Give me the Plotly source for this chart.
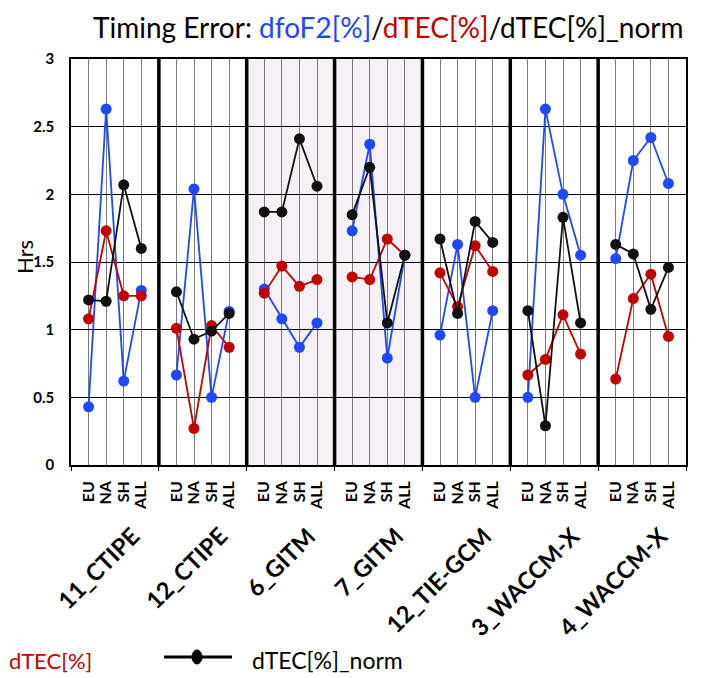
import plotly.graph_objects as go

groups = ["11_CTIPE", "12_CTIPE", "6_GITM", "7_GITM", "12_TIE-GCM", "3_WACCM-X", "4_WACCM-X"]
regions = ["EU", "NA", "SH", "ALL"]

dfoF2 = [
    [0.43, 2.63, 0.62, 1.29],
    [0.665, 2.04, 0.50, 1.135],
    [1.30, 1.08, 0.87, 1.05],
    [1.73, 2.37, 0.79, 1.55],
    [0.96, 1.63, 0.50, 1.14],
    [0.50, 2.63, 2.00, 1.55],
    [1.525, 2.25, 2.42, 2.08],
]
dTEC = [
    [1.08, 1.73, 1.25, 1.25],
    [1.01, 0.27, 1.03, 0.87],
    [1.27, 1.47, 1.32, 1.37],
    [1.39, 1.37, 1.67, 1.55],
    [1.42, 1.17, 1.62, 1.43],
    [0.665, 0.78, 1.11, 0.82],
    [0.635, 1.23, 1.41, 0.95],
]
dTEC_norm = [
    [1.22, 1.21, 2.07, 1.60],
    [1.28, 0.93, 0.99, 1.12],
    [1.87, 1.87, 2.41, 2.06],
    [1.85, 2.20, 1.05, 1.55],
    [1.67, 1.12, 1.80, 1.645],
    [1.14, 0.29, 1.83, 1.05],
    [1.63, 1.56, 1.15, 1.46],
]
shaded_groups = ["6_GITM", "7_GITM"]

BLUE = "#1f48ff"
RED = "#c00000"
BLACK = "#111111"
FONT = "Lato"

W, H = 701, 678
L, R, T, B = 71, 15, 59, 213
PW = W - L - R
PH = H - T - B


def px2paper_x(px):
    return (px - L) / PW


def px2paper_y(py):
    return (H - B - py) / PH


def series_xy(values):
    xs, ys = [], []
    for g, vals in enumerate(values):
        for i, v in enumerate(vals):
            xs.append(5 * g + i + 1)
            ys.append(v)
        xs.append(None)
        ys.append(None)
    return xs, ys


fig = go.Figure()
for vals, col in [(dfoF2, BLUE), (dTEC, RED), (dTEC_norm, BLACK)]:
    xs, ys = series_xy(vals)
    fig.add_trace(go.Scatter(
        x=xs, y=ys, mode="lines+markers",
        line=dict(color=col, width=1.8),
        marker=dict(color=col, size=11),
        showlegend=False, cliponaxis=False,
    ))

tickvals, ticktext = [], []
for g in range(len(groups)):
    for i, r in enumerate(regions):
        tickvals.append(5 * g + i + 1)
        ticktext.append("<b>%s</b>" % r)

shapes = []
for g, name in enumerate(groups):
    if name in shaded_groups:
        shapes.append(dict(type="rect", xref="x", yref="y", x0=5 * g, x1=5 * g + 5,
                           y0=0, y1=3, fillcolor="#f6f1f4", line=dict(width=0), layer="below"))
# group separators
for g in range(1, len(groups)):
    shapes.append(dict(type="line", xref="x", yref="y", x0=5 * g, x1=5 * g, y0=0, y1=3,
                       line=dict(color="black", width=3.5), layer="above"))

annotations = []
for g, name in enumerate(groups):
    annotations.append(dict(
        text="<b>%s</b>" % name, xref="x", yref="paper",
        x=5 * g + 4.35, y=px2paper_y(519), xanchor="right", yanchor="top",
        textangle=-45, showarrow=False,
        font=dict(family=FONT, size=23.5, color="black"),
    ))

# title
annotations.append(dict(
    text=("Timing Error: <span style='color:%s'>dfoF2[%%]</span>/"
          "<span style='color:%s'>dTEC[%%]</span>/dTEC[%%]_norm") % (BLUE, RED),
    xref="paper", yref="paper", x=px2paper_x(388), y=px2paper_y(27),
    xanchor="center", yanchor="middle", showarrow=False,
    font=dict(family=FONT, size=28, color="black"),
))

# y-axis title
annotations.append(dict(
    text="Hrs", xref="paper", yref="paper", x=px2paper_x(24), y=px2paper_y(257),
    xanchor="center", yanchor="middle", textangle=-90, showarrow=False,
    font=dict(family=FONT, size=22, color="black"),
))

# manual (clipped) legend
annotations.append(dict(
    text="dTEC[%]", xref="paper", yref="paper", x=px2paper_x(7), y=px2paper_y(660),
    xanchor="left", yanchor="middle", showarrow=False,
    font=dict(family=FONT, size=22, color=RED),
))
annotations.append(dict(
    text="dTEC[%]_norm", xref="paper", yref="paper", x=px2paper_x(250), y=px2paper_y(660),
    xanchor="left", yanchor="middle", showarrow=False,
    font=dict(family=FONT, size=23, color="black"),
))
shapes.append(dict(type="line", xref="paper", yref="paper",
                   x0=px2paper_x(164), x1=px2paper_x(232),
                   y0=px2paper_y(657), y1=px2paper_y(657),
                   line=dict(color="black", width=3)))
shapes.append(dict(type="circle", xref="paper", yref="paper",
                   x0=px2paper_x(192), x1=px2paper_x(202),
                   y0=px2paper_y(650), y1=px2paper_y(664),
                   fillcolor="black", line=dict(color="black", width=1)))

fig.update_layout(
    width=W, height=H,
    margin=dict(l=L, r=R, t=T, b=B, autoexpand=False),
    paper_bgcolor="white", plot_bgcolor="white",
    font=dict(family=FONT, color="black"),
    shapes=shapes, annotations=annotations,
    xaxis=dict(
        range=[0, 35], tickvals=tickvals, ticktext=ticktext, tickangle=-90,
        tickfont=dict(family=FONT, size=16, color="black"),
        showgrid=True, gridcolor="#7a7a7a", gridwidth=1.2,
        showline=True, linecolor="black", linewidth=1.5, mirror=True,
        ticks="", zeroline=False, ticklabelstandoff=8, automargin=False,
        minor=dict(tick0=0, dtick=5, ticks="outside", ticklen=4, tickcolor="black", showgrid=False),
    ),
    yaxis=dict(
        range=[0, 3], tickvals=[0, 0.5, 1, 1.5, 2, 2.5, 3],
        ticktext=["<b>0</b>", "<b>0.5</b>", "<b>1</b>", "<b>1.5</b>", "<b>2</b>", "<b>2.5</b>", "<b>3</b>"],
        tickfont=dict(family=FONT, size=15, color="black"),
        showgrid=True, gridcolor="black", gridwidth=1,
        showline=True, linecolor="black", linewidth=1.5, mirror=True,
        ticks="", zeroline=False, ticklabelstandoff=12, automargin=False,
    ),
)

fig.write_html("out.html")
